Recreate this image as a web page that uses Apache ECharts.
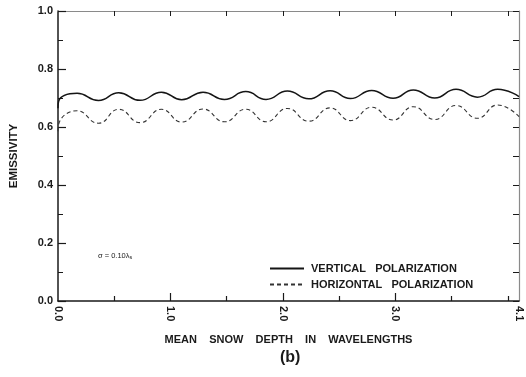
<!DOCTYPE html>
<html>
<head>
<meta charset="utf-8">
<script src="https://cdn.jsdelivr.net/npm/echarts@6/dist/echarts.min.js"></script>
<style>
  html, body { margin: 0; padding: 0; background: #fff; }
  #chart { width: 526px; height: 377px; }
</style>
</head>
<body>
<div id="chart"></div>
<script>
// Mean snow depth (in wavelengths) at which each curve turns
const depth = [0, 0.005, 0.17, 0.36, 0.54, 0.73, 0.92, 1.10, 1.29, 1.48, 1.67, 1.85,
               2.04, 2.23, 2.42, 2.60, 2.79, 2.98, 3.16, 3.35, 3.54, 3.73, 3.91, 4.10];

// Emissivity, vertical polarization
const vertical = [0.665, 0.688, 0.716, 0.691, 0.718, 0.692, 0.720, 0.694, 0.720, 0.695, 0.722, 0.695,
                  0.724, 0.697, 0.725, 0.698, 0.726, 0.699, 0.728, 0.700, 0.730, 0.703, 0.730, 0.705];

// Emissivity, horizontal polarization
const horizontal = [0.585, 0.608, 0.656, 0.613, 0.661, 0.615, 0.661, 0.617, 0.662, 0.618, 0.661, 0.618,
                    0.664, 0.620, 0.666, 0.622, 0.668, 0.624, 0.670, 0.626, 0.674, 0.630, 0.676, 0.636];

// Axis ticks and labels
const xLabelValues = [0, 1, 2, 3, 4.1];
const xMajorTicks = [1, 2, 3];
const xMinorTicks = [0.5, 1.5, 2.5, 3.5, 4.0];
const xTopTicks = [0.5, 1, 1.5, 2, 2.5, 3, 3.5, 4.0];

const FONT = 'Liberation Sans, Arial, sans-serif';
const INK = '#1a1a1a';
const FRAME = '#8a8a8a';

const pairs = ys => depth.map((d, i) => [d, ys[i]]);

const chart = echarts.init(document.getElementById('chart'), null, { renderer: 'canvas' });

chart.setOption({
  animation: false,
  backgroundColor: '#fff',
  grid: { left: 56, right: 7, top: 11, bottom: 76, containLabel: false },
  legend: {
    orient: 'vertical',
    left: 264,
    top: 258,
    itemWidth: 34,
    itemHeight: 8,
    itemGap: 5,
    itemStyle: { opacity: 0 },
    textStyle: { fontFamily: FONT, fontSize: 11, fontWeight: 'bold', color: INK, padding: [0, 0, 0, 2] },
    data: ['VERTICAL   POLARIZATION', 'HORIZONTAL   POLARIZATION']
  },
  xAxis: [
    {
      type: 'value', min: 0, max: 4.1, position: 'bottom',
      name: 'MEAN    SNOW    DEPTH    IN    WAVELENGTHS',
      nameLocation: 'middle', nameGap: 33,
      nameTextStyle: { fontFamily: FONT, fontSize: 11, fontWeight: 'bold', color: INK },
      axisLine: { show: true, onZero: false, lineStyle: { color: INK, width: 1.5 } },
      axisTick: { show: true, inside: true, length: 8, customValues: xMajorTicks, lineStyle: { color: INK, width: 1.2 } },
      axisLabel: {
        show: true, rotate: -90, margin: 5, customValues: xLabelValues,
        fontFamily: FONT, fontSize: 11, fontWeight: 'bold', color: INK,
        formatter: v => v.toFixed(1)
      },
      splitLine: { show: false }
    },
    {
      type: 'value', min: 0, max: 4.1, position: 'bottom',
      axisLine: { show: false },
      axisTick: { show: true, inside: true, length: 5, customValues: xMinorTicks, lineStyle: { color: INK, width: 1.2 } },
      axisLabel: { show: false },
      splitLine: { show: false }
    },
    {
      type: 'value', min: 0, max: 4.1, position: 'top',
      axisLine: { show: true, onZero: false, lineStyle: { color: FRAME, width: 1.2 } },
      axisTick: { show: true, inside: true, length: 5, customValues: xTopTicks, lineStyle: { color: INK, width: 1 } },
      axisLabel: { show: false },
      splitLine: { show: false }
    }
  ],
  yAxis: [
    {
      type: 'value', min: 0, max: 1, interval: 0.2, position: 'left',
      name: 'EMISSIVITY', nameLocation: 'middle', nameGap: 38, nameRotate: 90,
      nameTextStyle: { fontFamily: FONT, fontSize: 11.5, fontWeight: 'bold', color: INK },
      axisLine: { show: true, onZero: false, lineStyle: { color: INK, width: 1.5 } },
      axisTick: { show: true, inside: true, length: 8, lineStyle: { color: INK, width: 1.2 } },
      minorTick: { show: true, splitNumber: 2, length: 5, lineStyle: { color: INK, width: 1 } },
      axisLabel: { fontFamily: FONT, fontSize: 11, fontWeight: 'bold', color: INK, margin: 5, formatter: v => v.toFixed(1) },
      splitLine: { show: false }
    },
    {
      type: 'value', min: 0, max: 1, interval: 0.1, position: 'right',
      axisLine: { show: true, onZero: false, lineStyle: { color: FRAME, width: 1.2 } },
      axisTick: { show: true, inside: true, length: 6, lineStyle: { color: INK, width: 1 } },
      axisLabel: { show: false },
      splitLine: { show: false }
    }
  ],
  series: [
    {
      name: 'VERTICAL   POLARIZATION',
      type: 'line', smooth: 0.5, symbol: 'none',
      data: pairs(vertical),
      lineStyle: { color: '#151515', width: 1.5, type: 'solid' },
      itemStyle: { color: '#151515' }
    },
    {
      name: 'HORIZONTAL   POLARIZATION',
      type: 'line', smooth: 0.5, symbol: 'none',
      data: pairs(horizontal),
      lineStyle: { color: '#333', width: 1.1, type: [4, 3] },
      itemStyle: { color: '#333' }
    }
  ],
  graphic: [
    {
      type: 'text', left: 98, top: 252,
      style: {
        text: 'σ = 0.10λ{s|s}',
        rich: { s: { fontSize: 5.5, padding: [3, 0, 0, 0], fill: INK } },
        fontFamily: FONT, fontSize: 7.5, fill: INK
      }
    },
    {
      type: 'text', left: 280, top: 350,
      style: { text: '(b)', fontFamily: FONT, fontSize: 16, fontWeight: 'bold', fill: INK }
    }
  ]
});
</script>
</body>
</html>
